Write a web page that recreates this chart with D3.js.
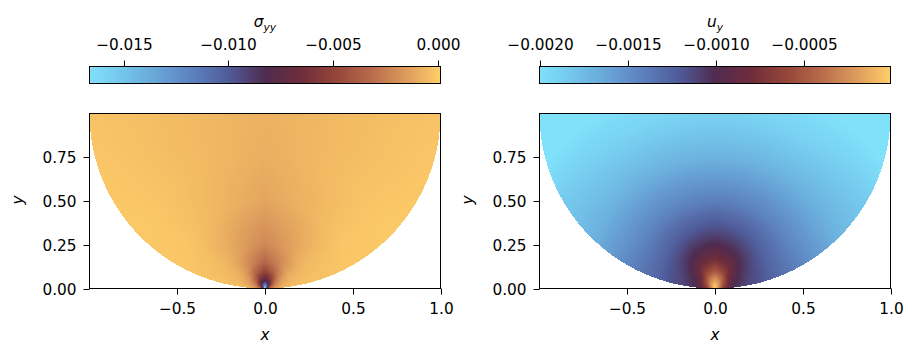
<!DOCTYPE html>
<html><head><meta charset="utf-8">
<script src="https://cdn.jsdelivr.net/npm/d3@7"></script>
<style>
body{margin:0;background:#fff}
text{font-family:"DejaVu Sans",sans-serif;fill:#000}
</style>
</head><body>
<svg id="chart" width="917" height="360"></svg>
<script>
// ---- data ----
const xDomain = [-0.9999, 1.0];
const yDomain = [0, 0.9999];
const xTicks = [-0.5, 0, 0.5, 1.0];
const xTickLabels = ["\u22120.5", "0.0", "0.5", "1.0"];
const yTicks = [0, 0.25, 0.5, 0.75];
const yTickLabels = ["0.00", "0.25", "0.50", "0.75"];

// polar sampling directions (degrees from the +y direction, about the load point (0,0))
const anglesDeg = [0, 30, 60, 90];

// sigma_yy
const sigmaRadii = [0, 0.005, 0.015, 0.025, 0.04, 0.06, 0.1, 0.15, 0.25, 0.5, 0.75, 1.0, 1.42];
const sigmaAt0  = [-0.0166, -0.0160, -0.0135, -0.0110, -0.0088, -0.0068, -0.0048, -0.0034, -0.0022, -0.0012, -0.0009, -0.0008, -0.0008];
const sigmaAt30 = [-0.0166, -0.0152, -0.0120, -0.0095, -0.0075, -0.0056, -0.0036, -0.0024, -0.0015, -0.0007, -0.0005, -0.0005, -0.0004];
const sigmaAt60 = [-0.0166, -0.0120, -0.0075, -0.0058, -0.0045, -0.0030, -0.0017, -0.0010, -0.0006, -0.0002, -0.0001, -0.0001, -0.0001];
const sigmaAt90 = [-0.0166, -0.0090, -0.0045, -0.0030, -0.0020, -0.0012, -0.0006, -0.0003, -0.0002, -0.0001, -0.00005, -0.00005, -0.00005];
const sigmaRange = [-0.01662, 0.0001];
const sigmaTicks = [-0.015, -0.010, -0.005, 0.000];
const sigmaTickLabels = ["\u22120.015", "\u22120.010", "\u22120.005", "0.000"];

// u_y
const uRadii = [0, 0.02, 0.05, 0.1, 0.15, 0.2, 0.27, 0.35, 0.5, 0.75, 1.0, 1.2, 1.42];
const uAt0  = [-0.00001, -0.00006, -0.0002, -0.0005, -0.00072, -0.00088, -0.00103, -0.00117, -0.0014, -0.0017, -0.0019, -0.0020, -0.0020];
const uAt30 = [-0.00001, -0.0001, -0.0003, -0.0006, -0.0008, -0.00094, -0.00108, -0.00121, -0.00142, -0.0017, -0.0019, -0.0020, -0.0020];
const uAt60 = [-0.00001, -0.0002, -0.0005, -0.0009, -0.001, -0.00108, -0.00117, -0.00128, -0.00145, -0.0017, -0.00185, -0.0020, -0.0020];
const uAt90 = [-0.00001, -0.0003, -0.0007, -0.001, -0.0011, -0.00116, -0.0012, -0.0013, -0.0014, -0.0017, -0.0019, -0.0020, -0.0020];
const uRange = [-0.0020, -0.000006];
const uTicks = [-0.0020, -0.0015, -0.0010, -0.0005];
const uTickLabels = ["\u22120.0020", "\u22120.0015", "\u22120.0010", "\u22120.0005"];

// colormap (light blue -> dark -> orange)
const cmapColors = ["#80e1fb", "#73c4ea", "#67a2d5", "#5c7fbb", "#4f5a98", "#4f2c50",
                    "#6e2c3c", "#934538", "#b76a4a", "#dc9a5c", "#ffce68"];

// ---- drawing ----
const svg = d3.select("#chart");
const cmap = d3.scaleLinear()
  .domain(cmapColors.map((c, i) => i / (cmapColors.length - 1)))
  .range(cmapColors).interpolate(d3.interpolateRgb).clamp(true);

function sampleField(radii, rows, x, y) {
  const r = Math.hypot(x, y);
  let th = Math.atan2(Math.abs(x), y) * 180 / Math.PI;
  th = Math.max(0, Math.min(90, th));
  let ai = 0;
  while (ai < anglesDeg.length - 2 && th > anglesDeg[ai + 1]) ai++;
  const ta = (th - anglesDeg[ai]) / (anglesDeg[ai + 1] - anglesDeg[ai]);
  const rr = Math.min(r, radii[radii.length - 1]);
  let ri = 0;
  while (ri < radii.length - 2 && rr > radii[ri + 1]) ri++;
  const tr = (rr - radii[ri]) / (radii[ri + 1] - radii[ri]);
  const v = (row) => row[ri] * (1 - tr) + row[ri + 1] * tr;
  return v(rows[ai]) * (1 - ta) + v(rows[ai + 1]) * ta;
}

function panel(opt) {
  const L = opt.left, R = opt.left + 351, T = 113.5, B = 288.5;
  const xs = d3.scaleLinear().domain(xDomain).range([L, R]);
  const ys = d3.scaleLinear().domain(yDomain).range([B, T]);
  const g = svg.append("g");

  // field image
  const x0 = Math.floor(L), y0 = Math.floor(T);
  const W = Math.ceil(R) - x0, H = Math.ceil(B) - y0;
  const cv = document.createElement("canvas");
  cv.width = W; cv.height = H;
  const ctx = cv.getContext("2d");
  const img = ctx.createImageData(W, H);
  const cs = d3.scaleLinear().domain(opt.range).range([0, 1]).clamp(true);
  for (let j = 0; j < H; j++) {
    for (let i = 0; i < W; i++) {
      const x = xs.invert(x0 + i + 0.5), y = ys.invert(y0 + j + 0.5);
      if (x < xDomain[0] || x > xDomain[1] || y < 0 || y > yDomain[1]) continue;
      if (x * x + (y - 1) * (y - 1) > 1) continue;
      const val = sampleField(opt.radii, opt.rows, x, y);
      const c = d3.rgb(cmap(cs(val)));
      const k = (j * W + i) * 4;
      img.data[k] = c.r; img.data[k + 1] = c.g; img.data[k + 2] = c.b; img.data[k + 3] = 255;
    }
  }
  ctx.putImageData(img, 0, 0);
  g.append("image").attr("x", x0).attr("y", y0).attr("width", W).attr("height", H)
    .attr("href", cv.toDataURL()).style("image-rendering", "pixelated");

  // axes frame
  g.append("rect").attr("x", L).attr("y", T).attr("width", R - L).attr("height", B - T)
    .attr("fill", "none").attr("stroke", "#000").attr("stroke-width", 1);

  const fs = 15.3;
  // x axis
  xTicks.forEach((t, i) => {
    const px = Math.round(xs(t)) + 0.5;
    g.append("line").attr("x1", px).attr("x2", px).attr("y1", B).attr("y2", B + 6)
      .attr("stroke", "#000");
    g.append("text").attr("x", px).attr("y", B + 25).attr("text-anchor", "middle")
      .attr("font-size", fs).text(xTickLabels[i]);
  });
  // y axis
  yTicks.forEach((t, i) => {
    const py = Math.round(ys(t)) + 0.5;
    g.append("line").attr("x1", L - 6).attr("x2", L).attr("y1", py).attr("y2", py)
      .attr("stroke", "#000");
    g.append("text").attr("x", L - 13).attr("y", py + 5.5).attr("text-anchor", "end")
      .attr("font-size", fs).text(yTickLabels[i]);
  });
  g.append("text").attr("x", (L + R) / 2).attr("y", 340).attr("text-anchor", "middle")
    .attr("font-size", fs).attr("font-style", "italic").text("x");
  g.append("text").attr("transform", `translate(${L - 67},200) rotate(-90)`)
    .attr("text-anchor", "middle").attr("font-size", fs).attr("font-style", "italic").text("y");

  // colorbar
  const cbT = 66.5, cbB = 83.5;
  const cbx = d3.scaleLinear().domain(opt.range).range([L, R]);
  const gid = "grad" + opt.id;
  const grad = svg.append("defs").append("linearGradient").attr("id", gid)
    .attr("x1", "0%").attr("x2", "100%").attr("y1", "0%").attr("y2", "0%");
  d3.range(0, 1.0001, 0.02).forEach(t => {
    grad.append("stop").attr("offset", (t * 100) + "%").attr("stop-color", cmap(t));
  });
  g.append("rect").attr("x", L).attr("y", cbT).attr("width", R - L).attr("height", cbB - cbT)
    .attr("fill", `url(#${gid})`).attr("stroke", "#000").attr("stroke-width", 1);
  opt.ticks.forEach((t, i) => {
    const px = Math.round(cbx(t)) + 0.5;
    g.append("line").attr("x1", px).attr("x2", px).attr("y1", cbT - 6).attr("y2", cbT)
      .attr("stroke", "#000");
    g.append("text").attr("x", px).attr("y", 49.5).attr("text-anchor", "middle")
      .attr("font-size", fs).text(opt.tickLabels[i]);
  });
  const title = g.append("text").attr("x", (L + R) / 2).attr("y", 26.5)
    .attr("text-anchor", "middle").attr("font-size", fs).attr("font-style", "italic");
  title.append("tspan").text(opt.titleMain);
  title.append("tspan").attr("font-size", 10.7).attr("dy", 4).text(opt.titleSub);
}

panel({id: "s", left: 89.5, radii: sigmaRadii, rows: [sigmaAt0, sigmaAt30, sigmaAt60, sigmaAt90],
  range: sigmaRange, ticks: sigmaTicks, tickLabels: sigmaTickLabels, titleMain: "\u03c3", titleSub: "yy"});
panel({id: "u", left: 539.5, radii: uRadii, rows: [uAt0, uAt30, uAt60, uAt90],
  range: uRange, ticks: uTicks, tickLabels: uTickLabels, titleMain: "u", titleSub: "y"});
</script>
</body></html>
